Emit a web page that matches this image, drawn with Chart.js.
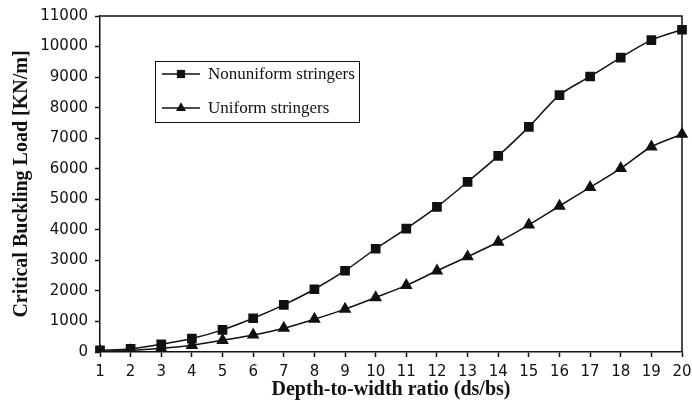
<!DOCTYPE html>
<html>
<head>
<meta charset="utf-8">
<script src="https://cdn.jsdelivr.net/npm/chart.js@4"></script>
<style>
  html, body { margin: 0; padding: 0; background: #fff; }
  #wrap { width: 692px; height: 407px; }
</style>
</head>
<body>
<div id="wrap"><canvas id="chart" width="692" height="407"></canvas></div>
<script>
// razão profundidade/largura (ds/bs)
const ratios = [1, 2, 3, 4, 5, 6, 7, 8, 9, 10, 11, 12, 13, 14, 15, 16, 17, 18, 19, 20];
// carga crítica de flambagem [KN/m]
const nonuniformLoad = [50, 100, 250, 440, 725, 1105, 1545, 2055, 2660, 3380, 4040, 4750, 5570, 6420, 7370, 8410, 9020, 9640, 10210, 10550];
const uniformLoad = [20, 50, 120, 220, 385, 560, 780, 1075, 1405, 1785, 2180, 2660, 3120, 3600, 4165, 4780, 5390, 6010, 6720, 7130];
const yTicks = [0, 1000, 2000, 3000, 4000, 5000, 6000, 7000, 8000, 9000, 10000, 11000];

const serif = "'Liberation Serif', 'Times New Roman', serif";
const sans = "'DejaVu Sans', Arial, sans-serif";

// Moldura no topo e à direita da área do gráfico
const framePlugin = {
    id: "frame",
    afterDraw(chart) {
        const { ctx, chartArea: a } = chart;
        ctx.save();
        ctx.strokeStyle = "#111";
        ctx.lineWidth = 1.5;
        ctx.beginPath();
        ctx.moveTo(a.left, a.top);
        ctx.lineTo(a.right, a.top);
        ctx.lineTo(a.right, a.bottom);
        ctx.stroke();
        ctx.restore();
    }
};

// Legenda com caixa dentro da área do gráfico
const boxLegendPlugin = {
    id: "boxLegend",
    afterDraw(chart) {
        const { ctx } = chart;
        const box = { x: 155, y: 61, w: 204, h: 61 };
        const rows = [74, 108];
        ctx.save();
        ctx.fillStyle = "#fff";
        ctx.fillRect(box.x, box.y, box.w, box.h);
        ctx.strokeStyle = "#111";
        ctx.lineWidth = 1;
        ctx.strokeRect(box.x + 0.5, box.y + 0.5, box.w, box.h);
        chart.data.datasets.forEach((ds, i) => {
            const y = rows[i];
            ctx.strokeStyle = ds.borderColor;
            ctx.lineWidth = ds.borderWidth;
            ctx.beginPath();
            ctx.moveTo(162, y);
            ctx.lineTo(200, y);
            ctx.stroke();
            ctx.fillStyle = ds.pointBackgroundColor;
            Chart.helpers.drawPoint(ctx, {
                pointStyle: ds.pointStyle,
                radius: ds.pointRadius,
                rotation: 0,
                borderWidth: 0
            }, 181, y);
            ctx.fillStyle = "#111";
            ctx.font = "17px " + serif;
            ctx.textBaseline = "middle";
            ctx.textAlign = "left";
            ctx.fillText(ds.label, 208, y + 1);
        });
        ctx.restore();
    }
};

new Chart(document.getElementById("chart"), {
    type: "line",
    data: {
        labels: ratios,
        datasets: [
            {
                label: "Nonuniform stringers",
                data: nonuniformLoad,
                borderColor: "#111",
                backgroundColor: "#111",
                pointBackgroundColor: "#111",
                pointBorderColor: "#111",
                borderWidth: 1.5,
                pointStyle: "rect",
                pointRadius: 5.8,
                tension: 0.3,
                fill: false
            },
            {
                label: "Uniform stringers",
                data: uniformLoad,
                borderColor: "#111",
                backgroundColor: "#111",
                pointBackgroundColor: "#111",
                pointBorderColor: "#111",
                borderWidth: 1.5,
                pointStyle: "triangle",
                pointRadius: 5.8,
                tension: 0.3,
                fill: false
            }
        ]
    },
    options: {
        responsive: false,
        animation: false,
        layout: { padding: { left: 0, top: 15, right: 10, bottom: 0 } },
        plugins: {
            legend: { display: false },
            tooltip: { enabled: false }
        },
        scales: {
            x: {
                type: "category",
                offset: false,
                afterFit: (scale) => {
                    scale.height = 55;
                    scale.paddingLeft = 0;
                    scale.paddingRight = 0;
                },
                grid: {
                    drawOnChartArea: false,
                    drawTicks: true,
                    tickLength: 5,
                    tickWidth: 1.5,
                    color: "#111"
                },
                border: { display: true, color: "#111", width: 1.5 },
                ticks: {
                    color: "#111",
                    padding: 6,
                    autoSkip: false,
                    maxRotation: 0,
                    font: { family: sans, size: 15 }
                },
                title: {
                    display: true,
                    text: "Depth-to-width ratio (ds/bs)",
                    color: "#111",
                    padding: { top: 0, bottom: 5 },
                    font: { family: serif, size: 20, weight: "bold" }
                }
            },
            y: {
                min: 0,
                max: 11000,
                afterFit: (scale) => { scale.width = 100; },
                afterBuildTicks: (scale) => { scale.ticks = yTicks.map(v => ({ value: v })); },
                grid: {
                    drawOnChartArea: false,
                    drawTicks: true,
                    tickLength: 5,
                    tickWidth: 1.5,
                    color: "#111"
                },
                border: { display: true, color: "#111", width: 1.5 },
                ticks: {
                    color: "#111",
                    padding: 7,
                    font: { family: sans, size: 15 },
                    callback: (v) => String(v)
                },
                title: {
                    display: true,
                    text: "Critical Buckling Load [KN/m]",
                    color: "#111",
                    padding: { top: 10, bottom: 0 },
                    font: { family: serif, size: 20, weight: "bold" }
                }
            }
        }
    },
    plugins: [framePlugin, boxLegendPlugin]
});
</script>
</body>
</html>
